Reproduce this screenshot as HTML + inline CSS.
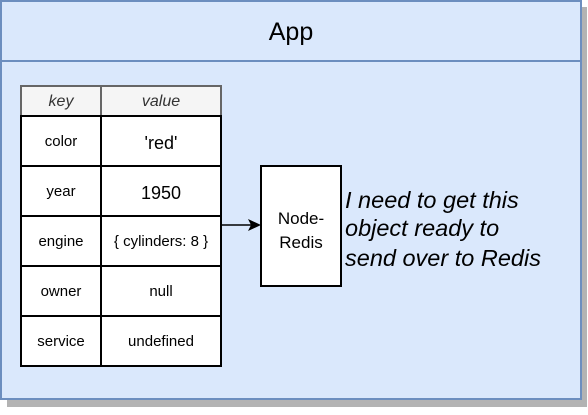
<!DOCTYPE html>
<html><head><style>
body{margin:0;width:588px;height:410px;background:#fff;overflow:hidden;font-family:"Liberation Sans",Arial,sans-serif;}
svg text{font-family:"Liberation Sans",Arial,sans-serif;}
</style></head><body>
<svg width="588" height="410" xmlns="http://www.w3.org/2000/svg">
<rect x="7" y="7" width="580" height="400" fill="#b3b3b3"/>
<rect x="1" y="1" width="580" height="398" fill="#dae8fc" stroke="#6c8ebf" stroke-width="2"/>
<line x1="1" y1="61" x2="581" y2="61" stroke="#6c8ebf" stroke-width="2"/>
<text x="291" y="40" font-size="25" text-anchor="middle">App</text>
<rect x="21" y="86" width="200" height="30" fill="#f5f5f5" stroke="#666" stroke-width="2"/>
<line x1="101" y1="86" x2="101" y2="116" stroke="#666" stroke-width="2"/>
<text x="61" y="106" font-size="16" font-style="italic" text-anchor="middle" fill="#333">key</text>
<text x="161" y="106" font-size="16" font-style="italic" text-anchor="middle" fill="#333">value</text>
<rect x="21" y="116" width="200" height="250" fill="#fff" stroke="#000" stroke-width="2"/>
<g stroke="#000" stroke-width="2">
<line x1="101" y1="116" x2="101" y2="366"/>
<line x1="21" y1="166" x2="221" y2="166"/>
<line x1="21" y1="216" x2="221" y2="216"/>
<line x1="21" y1="266" x2="221" y2="266"/>
<line x1="21" y1="316" x2="221" y2="316"/>
</g>
<g font-size="15" text-anchor="middle">
<text x="61" y="146">color</text>
<text x="61" y="196">year</text>
<text x="61" y="246">engine</text>
<text x="61" y="296">owner</text>
<text x="61" y="346">service</text>
<text x="161" y="149" font-size="18">'red'</text>
<text x="161" y="199" font-size="18">1950</text>
<text x="161" y="246" font-size="15">{ cylinders: 8 }</text>
<text x="161" y="296">null</text>
<text x="161" y="346">undefined</text>
</g>
<line x1="221" y1="225" x2="252" y2="225" stroke="#000" stroke-width="1.5"/>
<polygon points="261,225 248,219 251,225 248,231" fill="#000"/>
<rect x="261" y="166" width="80" height="120" fill="#fff" stroke="#000" stroke-width="2"/>
<text x="301" y="224" font-size="17" text-anchor="middle">Node-</text>
<text x="301" y="248" font-size="17" text-anchor="middle">Redis</text>
<g font-size="23.5" font-style="italic">
<text x="345" y="208">I need to get this</text>
<text x="345" y="236">object ready to</text>
<text x="345" y="266">send over to Redis</text>
</g>
</svg>
</body></html>
